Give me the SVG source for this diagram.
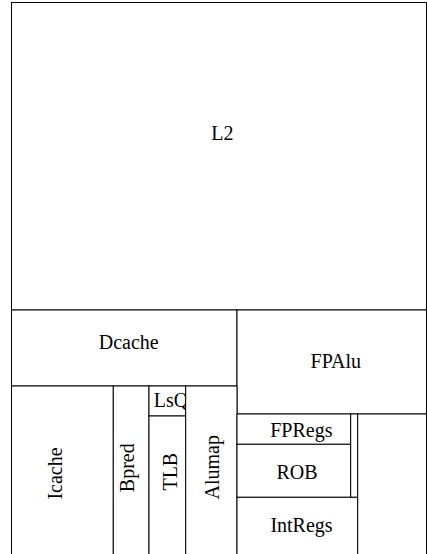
<svg xmlns="http://www.w3.org/2000/svg" width="427" height="554" viewBox="0 0 427 554">
<style>
rect{fill:#fff;stroke:#000;stroke-width:1}
text{font-family:"Liberation Serif","Times New Roman",serif;font-size:20px;fill:#000;text-anchor:middle}
</style>
<rect x="0" y="0" width="427" height="554" style="stroke:none"/>
<g id="L2"><rect x="11.5" y="2.5" width="415" height="307.5"/><text x="222.3" y="140">L2</text></g>
<g id="Dcache"><rect x="11.5" y="310" width="225.5" height="76"/><text x="128.7" y="349.3">Dcache</text></g>
<g id="FPAlu"><rect x="237" y="310" width="189.5" height="104"/><text x="335.8" y="368.3">FPAlu</text></g>
<g id="Icache"><rect x="11.5" y="386" width="101.8" height="180"/><text transform="translate(61.5,473.5) rotate(-90)">Icache</text></g>
<g id="Bpred"><rect x="113.3" y="386" width="35.7" height="180"/><text transform="translate(134.3,467.7) rotate(-90)">Bpred</text></g>
<g id="LsQ"><rect x="149" y="386" width="36.7" height="30"/><text x="171" y="407">LsQ</text></g>
<g id="TLB"><rect x="149" y="416" width="36.7" height="150"/><text transform="translate(177.3,471.7) rotate(-90)">TLB</text></g>
<g id="Alumap"><rect x="185.7" y="386" width="51.3" height="180"/><text transform="translate(218.5,467.3) rotate(-90)">Alumap</text></g>
<g id="FPRegs"><rect x="237" y="414" width="113.7" height="30.3"/><text x="301.3" y="436.7">FPRegs</text></g>
<g id="ROB"><rect x="237" y="444.3" width="113.7" height="53"/><text x="297" y="478.7">ROB</text></g>
<g id="Strip"><rect x="350.7" y="414" width="7" height="83.3"/></g>
<g id="IntRegs"><rect x="237" y="497.3" width="120.7" height="70"/><text x="301.5" y="531.5">IntRegs</text></g>
<g id="Empty"><rect x="357.7" y="414" width="68.8" height="152"/></g>
<g id="connectors"/>
</svg>
